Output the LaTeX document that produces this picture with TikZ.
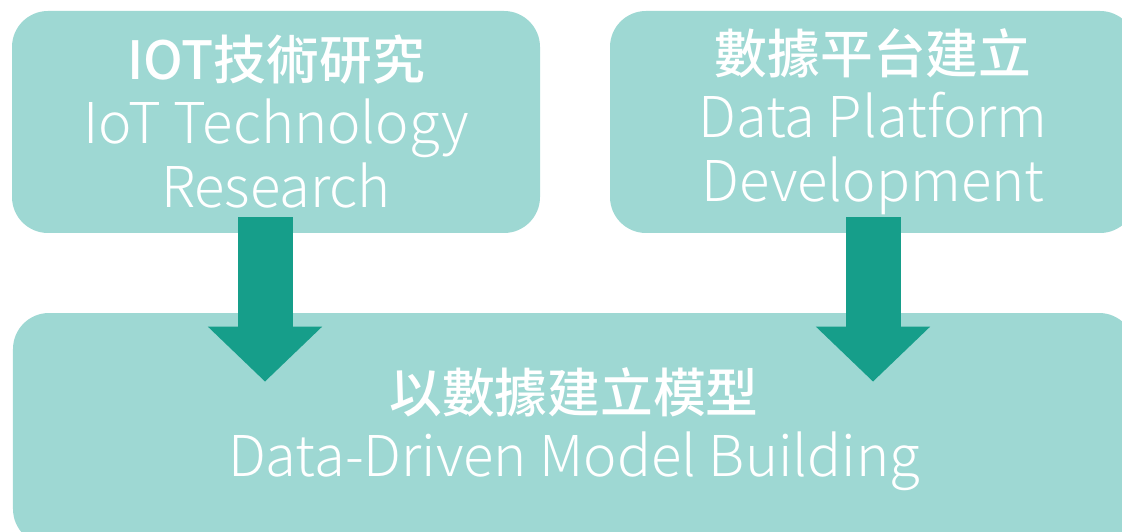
\documentclass[tikz,border=0pt]{standalone}
\usepackage{fontspec}
\setmainfont{Noto Sans CJK TC}[UprightFont=* Light, BoldFont=* Medium]
\usepackage{xcolor}
\usetikzlibrary{arrows.meta}
\definecolor{boxteal}{HTML}{9ED8D3}
\definecolor{arrowteal}{HTML}{169E8A}
\tikzset{
  stagebox/.style={fill=boxteal, rounded corners=0.72cm, text=white, align=center,
    minimum width=10.56cm, minimum height=4.44cm, inner sep=0pt,
    font=\fontsize{32}{36.4}\selectfont},
  bigarrow/.style={arrowteal, line width=1.1cm,
    -{Triangle[width=2.22cm,length=1.1cm]}},
}
\newcommand{\zhline}[1]{{\fontsize{30}{36.4}\selectfont\bfseries #1}}

\begin{document}
\begin{tikzpicture}
                \useasboundingbox (0,0) rectangle (22.44,10.62);
                \clip (0,0) rectangle (22.44,10.62);
                \node[stagebox] (iot) at (5.52, 8.18) {\zhline{IOT技術研究}\\IoT Technology\\Research};
                \node[stagebox, minimum width=10.52cm] (platform) at (17.46, 8.18) {\zhline{數據平台建立}\\Data Platform\\Development};
                \node[stagebox, minimum width=22.44cm, minimum height=4.64cm] (model) at (11.48, 2.04) {\zhline{以數據建立模型}\\Data-Driven Model Building};
                \draw[bigarrow] ([xshift=-0.22cm,yshift=0.32cm]iot.south) -- ([xshift=-0.22cm,yshift=-1.38cm]iot.south |- model.north);
                \draw[bigarrow] ([yshift=0.32cm]platform.south) -- ([yshift=-1.38cm]platform.south |- model.north);
            \end{tikzpicture}
\end{document}
